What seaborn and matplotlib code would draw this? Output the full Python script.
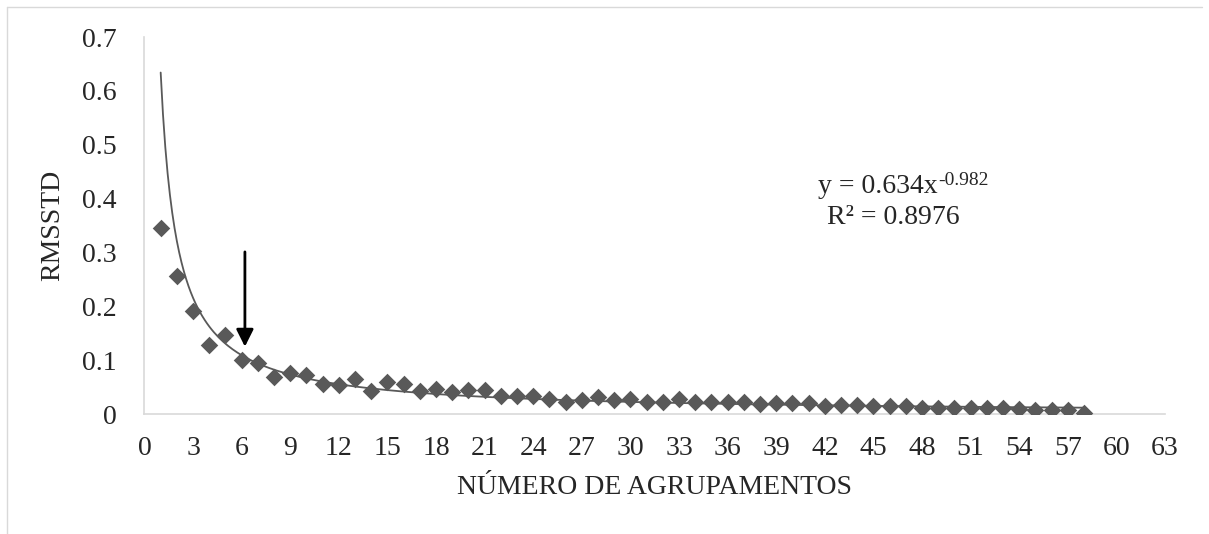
import numpy as np
import pandas as pd
import seaborn as sb
import matplotlib.pyplot as plt
from matplotlib.lines import Line2D

# number of clusters vs RMSSTD
n_groups = list(range(1, 59))
rmsstd = [0.346, 0.256, 0.191, 0.128, 0.147, 0.100, 0.095, 0.068, 0.077, 0.072,
          0.055, 0.053, 0.065, 0.043, 0.059, 0.055, 0.043, 0.046, 0.040, 0.045,
          0.045, 0.034, 0.033, 0.033, 0.027, 0.023, 0.026, 0.031, 0.026, 0.027,
          0.023, 0.023, 0.027, 0.023, 0.022, 0.023, 0.022, 0.018, 0.020, 0.020,
          0.020, 0.015, 0.017, 0.017, 0.015, 0.015, 0.014, 0.012, 0.012, 0.012,
          0.012, 0.012, 0.011, 0.009, 0.007, 0.007, 0.007, 0.001]

# power trendline coefficients (as printed on the chart)
coef_a = 0.634
coef_b = -0.982
r_squared = 0.8976

x_ticks = list(range(0, 64, 3))
y_ticks = [0, 0.1, 0.2, 0.3, 0.4, 0.5, 0.6, 0.7]
y_tick_labels = ['0', '0.1', '0.2', '0.3', '0.4', '0.5', '0.6', '0.7']

sb.set_style('white')
plt.rcParams['font.family'] = ['Liberation Serif', 'DejaVu Serif']

fig = plt.figure(figsize=(12.09, 5.34), dpi=100)
ax = fig.add_axes([0.1195, 0.2247, 0.9636 - 0.1195, 0.9307 - 0.2247])

df = pd.DataFrame({'grupos': n_groups, 'rmsstd': rmsstd})
gray = '#595959'

sb.scatterplot(data=df, x='grupos', y='rmsstd', marker='D', s=80,
               color=gray, edgecolor=gray, linewidth=0, ax=ax, zorder=3)

xt = np.linspace(1, 58, 400)
trend = pd.DataFrame({'x': xt, 'y': coef_a * xt ** coef_b})
sb.lineplot(data=trend, x='x', y='y', color=gray, linewidth=1.3, ax=ax, zorder=2)

ax.set_xlim(0, 63)
ax.set_ylim(0, 0.7)
ax.set_xticks(x_ticks)
ax.set_yticks(y_ticks)
ax.set_yticklabels(y_tick_labels)
ax.tick_params(axis='both', length=0, labelsize=20)
ax.tick_params(axis='y', pad=20)
ax.tick_params(axis='x', pad=16)

for side in ['top', 'right']:
    ax.spines[side].set_visible(False)
for side in ['left', 'bottom']:
    ax.spines[side].set_color('#d9d9d9')
    ax.spines[side].set_linewidth(1.2)

ax.set_xlabel('NÚMERO DE AGRUPAMENTOS', fontsize=20, labelpad=10)
ax.set_ylabel('RMSSTD', fontsize=20, labelpad=12)

# arrow marking the chosen number of groups
ax.annotate('', xy=(6.2, 0.125), xytext=(6.2, 0.301),
            arrowprops=dict(arrowstyle='-|>', color='black', lw=2,
                            mutation_scale=26, shrinkA=0, shrinkB=0))

# trendline equation, exponent as a separate superscript text
eq = ax.text(41.6, 0.423, 'y = %.3fx' % coef_a, fontsize=20,
             ha='left', va='center')
ax.annotate('%.3f' % coef_b, xy=(1, 0.72), xycoords=eq, fontsize=14,
            ha='left', va='center')
ax.text(46.2, 0.364, 'R² = %.4f' % r_squared, fontsize=20,
        ha='center', va='center')

# chart area border
fig.add_artist(Line2D([7 / 1209, 1202 / 1209], [1 - 7 / 534, 1 - 7 / 534],
                      transform=fig.transFigure, color='#d9d9d9', lw=1))
fig.add_artist(Line2D([7 / 1209, 7 / 1209], [0, 1 - 7 / 534],
                      transform=fig.transFigure, color='#d9d9d9', lw=1))

fig.savefig('out.png', dpi=100)
plt.close()
